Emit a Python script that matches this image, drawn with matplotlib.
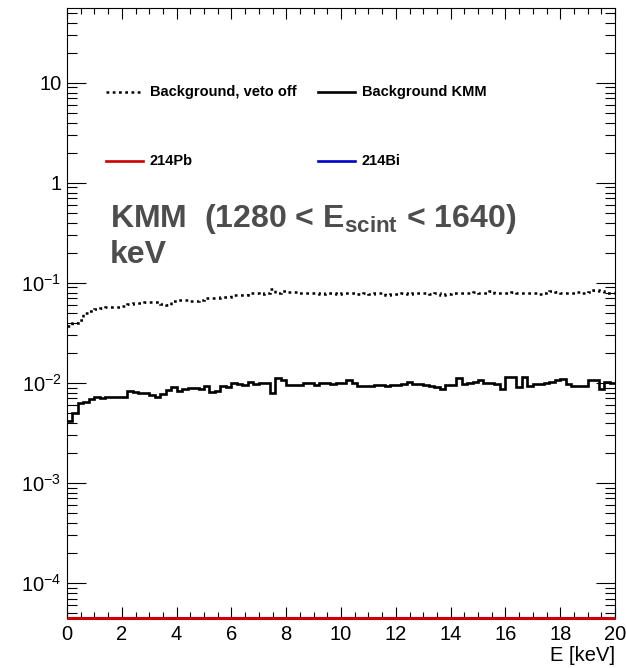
import numpy as np
import matplotlib
matplotlib.use("Agg")
import matplotlib.pyplot as plt
from matplotlib.lines import Line2D
from matplotlib.ticker import FixedLocator, LogLocator, NullFormatter, MultipleLocator

plt.rcParams["font.family"] = ["Liberation Sans", "DejaVu Sans"]
plt.rcParams["mathtext.fontset"] = "custom"
plt.rcParams["mathtext.rm"] = "Liberation Sans"
plt.rcParams["mathtext.bf"] = "Liberation Sans:bold"

# 100 bins of 0.2 keV, 0-20 keV
edges = np.linspace(0, 20, 101)

veto_off = [
    0.037, 0.040, 0.043, 0.050, 0.052, 0.055, 0.056, 0.057, 0.058, 0.058,
    0.059, 0.062, 0.063, 0.063, 0.064, 0.065, 0.064, 0.061, 0.060, 0.066,
    0.067, 0.068, 0.066, 0.066, 0.067, 0.070, 0.070, 0.071, 0.073, 0.072,
    0.076, 0.075, 0.076, 0.080, 0.079, 0.078, 0.079, 0.087, 0.080, 0.083,
    0.082, 0.081, 0.080, 0.079, 0.080, 0.079, 0.078, 0.079, 0.079, 0.078,
    0.079, 0.080, 0.079, 0.078, 0.079, 0.078, 0.080, 0.079, 0.075, 0.078,
    0.077, 0.079, 0.078, 0.079, 0.080, 0.079, 0.078, 0.079, 0.075, 0.078,
    0.079, 0.080, 0.080, 0.079, 0.081, 0.080, 0.079, 0.083, 0.080, 0.079,
    0.080, 0.081, 0.080, 0.079, 0.080, 0.079, 0.077, 0.079, 0.083, 0.082,
    0.080, 0.079, 0.080, 0.081, 0.080, 0.082, 0.085, 0.083, 0.080, 0.079,
]

kmm = [
    4.2, 5.0, 6.3, 6.4, 6.9, 7.2, 7.0, 7.3, 7.3, 7.2,
    7.2, 8.3, 8.2, 8.0, 7.9, 7.6, 7.3, 7.8, 8.5, 9.2,
    8.3, 8.8, 8.9, 8.9, 8.7, 9.4, 8.1, 8.3, 9.3, 9.2,
    10.0, 9.7, 9.6, 10.2, 9.8, 10.0, 10.0, 7.9, 11.2, 10.8,
    9.6, 9.6, 9.5, 9.9, 9.9, 9.6, 10.0, 9.9, 9.7, 9.9,
    10.1, 10.7, 10.1, 9.3, 9.3, 9.3, 9.5, 9.5, 9.3, 9.5,
    9.5, 9.8, 10.3, 9.8, 9.8, 9.5, 9.3, 9.2, 8.8, 9.5,
    9.5, 11.1, 9.8, 10.1, 10.3, 10.7, 10.1, 9.9, 9.8, 8.7,
    11.4, 11.4, 9.2, 11.6, 9.3, 9.8, 9.8, 10.1, 10.3, 10.7,
    10.9, 9.8, 9.3, 9.3, 9.3, 10.7, 10.7, 8.8, 10.3, 10.1,
]
kmm = [v * 1e-3 for v in kmm]

# isotope spectra are empty in this energy window
pb214 = [0.0] * 100
bi214 = [0.0] * 100

y_ticks = [1e-4, 1e-3, 1e-2, 1e-1, 1, 10]
y_ticklabels = [r"$10^{-4}$", r"$10^{-3}$", r"$10^{-2}$", r"$10^{-1}$", "1", "10"]
x_ticks = [0, 2, 4, 6, 8, 10, 12, 14, 16, 18, 20]

YMIN, YMAX = 4.47e-5, 56.0
RED = "#cc0000"
BLUE = "#0000cc"
GREY = "#4d4d4d"
DOTS = (0, (1.1, 1.4))

fig = plt.figure(figsize=(6.26, 6.68), dpi=100)
W, H = 626, 668
ax = fig.add_axes([67 / W, 1 - 618 / H, (615 - 67) / W, (618 - 8) / H])

ax.stairs(veto_off, edges, baseline=None, color="black", lw=1.8, linestyle=DOTS)
ax.stairs(kmm, edges, baseline=None, color="black", lw=1.9)
# empty bins are drawn on the bottom of the frame, as ROOT does
ax.stairs(np.clip(bi214, YMIN, None), edges, baseline=None, color=BLUE, lw=2.2,
          clip_on=False, zorder=5)
ax.stairs(np.clip(pb214, YMIN, None), edges, baseline=None, color=RED, lw=2.2,
          clip_on=False, zorder=6)

ax.set_yscale("log")
ax.set_xlim(0, 20)
ax.set_ylim(YMIN, YMAX)
ax.yaxis.set_major_locator(FixedLocator(y_ticks))
ax.set_yticklabels(y_ticklabels)
ax.yaxis.set_minor_locator(LogLocator(base=10, subs=np.arange(2, 10), numticks=20))
ax.yaxis.set_minor_formatter(NullFormatter())
ax.set_xticks(x_ticks)
ax.set_xticklabels([str(t) for t in x_ticks])
ax.xaxis.set_minor_locator(MultipleLocator(0.5))

ax.tick_params(which="both", direction="in", top=True, right=True, width=0.8, color="black")
ax.tick_params(axis="x", which="major", length=8, labelsize=14.5, pad=5)
ax.tick_params(axis="x", which="minor", length=4.5)
ax.tick_params(axis="y", which="major", length=13.5, labelsize=14.5, pad=4)
ax.tick_params(axis="y", which="minor", length=7)
for s in ax.spines.values():
    s.set_linewidth(0.8)

fig.text(615 / W, 1 - 661 / H, "E [keV]", ha="right", va="baseline", fontsize=14.5)

# legend, drawn by hand in figure pixels
def px(x, y):
    return x / W, 1 - y / H

legend_rows = [
    (106, 92, dict(color="black", lw=1.8, linestyle=DOTS), "Background, veto off"),
    (318, 92, dict(color="black", lw=1.9), "Background KMM"),
    (106, 161, dict(color=RED, lw=1.9), "214Pb"),
    (318, 161, dict(color=BLUE, lw=1.9), "214Bi"),
]
for x0, y0, style, label in legend_rows:
    xa, ya = px(x0, y0)
    xb, _ = px(x0 + 37, y0)
    fig.add_artist(Line2D([xa, xb], [ya, ya], transform=fig.transFigure, **style))
    tx, ty = px(x0 + 44, y0)
    fig.text(tx, ty, label, ha="left", va="center", fontsize=10.5, fontweight="bold")

tx, ty = px(110, 227)
fig.text(tx, ty, r"KMM  (1280 < E$_{\mathbf{scint}}$ < 1640)", ha="left", va="baseline",
         fontsize=23, fontweight="bold", color=GREY)
tx, ty = px(110, 263)
fig.text(tx, ty, "keV", ha="left", va="baseline", fontsize=23, fontweight="bold", color=GREY)

fig.savefig("out.png", dpi=100)
